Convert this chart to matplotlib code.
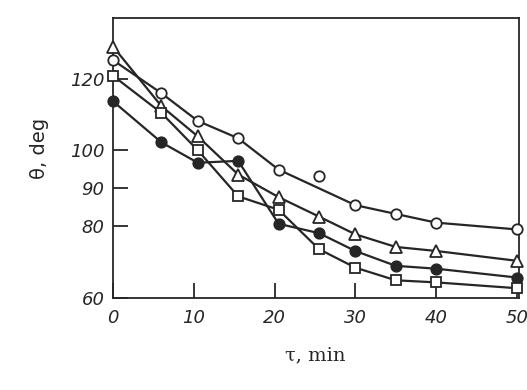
import numpy as np
import matplotlib
matplotlib.use("Agg")
import matplotlib.pyplot as plt

# time, min
t = [0, 6, 10.5, 15.5, 20.5, 25.5, 30, 35, 40, 50]

# contact angle, deg
open_circle = [125.8, 115.7, 107.9, 103.2, 94.9, 93.3, 85.6, 83.3, 81.0, 79.2]
open_triangle = [130.3, 112.0, 103.7, 93.6, 87.7, 82.6, 77.9, 74.5, 73.4, 70.7]
filled_circle = [113.4, 102.1, 96.7, 97.2, 80.7, 78.2, 73.4, 69.3, 68.5, 66.0]
open_square = [120.9, 110.1, 100.0, 87.9, 84.4, 73.9, 68.8, 65.2, 64.6, 62.9]

# the circle at 25.5 min sits off the drawn curve
circle_outlier = 5

x_ticks = [0, 10, 20, 30, 40, 50]
y_ticks = [60, 80, 90, 100, 120]

ink = "#262626"


def fwd(deg):
    return -np.cos(np.radians(deg))


def inv(c):
    return np.degrees(np.arccos(np.clip(-c, -1, 1)))


fig = plt.figure(figsize=(5.27, 3.9), dpi=100)
ax = fig.add_axes([0.2144, 0.236, 0.771, 0.718])
ax.set_yscale("function", functions=(fwd, inv))

line_kw = dict(color=ink, lw=1.6, zorder=2, clip_on=False)


def marks(marker, face, size):
    return dict(ls="none", color=ink, marker=marker, markerfacecolor=face,
                markeredgewidth=1.3, markersize=size, zorder=3, clip_on=False)


keep = [i for i in range(len(t)) if i != circle_outlier]
ax.plot([t[i] for i in keep], [open_circle[i] for i in keep], **line_kw)
ax.plot(t, open_triangle, **line_kw)
ax.plot(t, filled_circle, **line_kw)
ax.plot(t, open_square, **line_kw)

ax.plot(t, open_circle, **marks("o", "white", 7.5))
ax.plot(t, open_triangle, **marks("^", "white", 8.5))
ax.plot(t, filled_circle, **marks("o", ink, 7.5))
ax.plot(t, open_square, **marks("s", "white", 7))

ax.set_xlim(0, 50.3)
ax.set_ylim(60, 141)
ax.set_xticks(x_ticks)
ax.set_yticks(y_ticks)
ax.set_yticks([], minor=True)
ax.set_xticklabels([str(v) for v in x_ticks], fontstyle="italic", fontsize=13, color=ink)
ax.set_yticklabels([str(v) for v in y_ticks], fontstyle="italic", fontsize=13, color=ink)
ax.tick_params(axis="both", direction="in", length=11, width=1.3, colors=ink,
               labelcolor=ink, top=False, right=False)
ax.tick_params(axis="x", pad=8)
ax.tick_params(axis="y", pad=6)

for s in ax.spines.values():
    s.set_color(ink)
    s.set_linewidth(1.3)

fig.text(0.075, 0.62, "θ, deg", rotation=90, fontsize=14, color=ink,
         ha="center", va="center")
fig.text(0.598, 0.09, "τ, min", fontsize=14, color=ink, family="DejaVu Serif",
         ha="center", va="center")

fig.savefig("out.png", dpi=100)
